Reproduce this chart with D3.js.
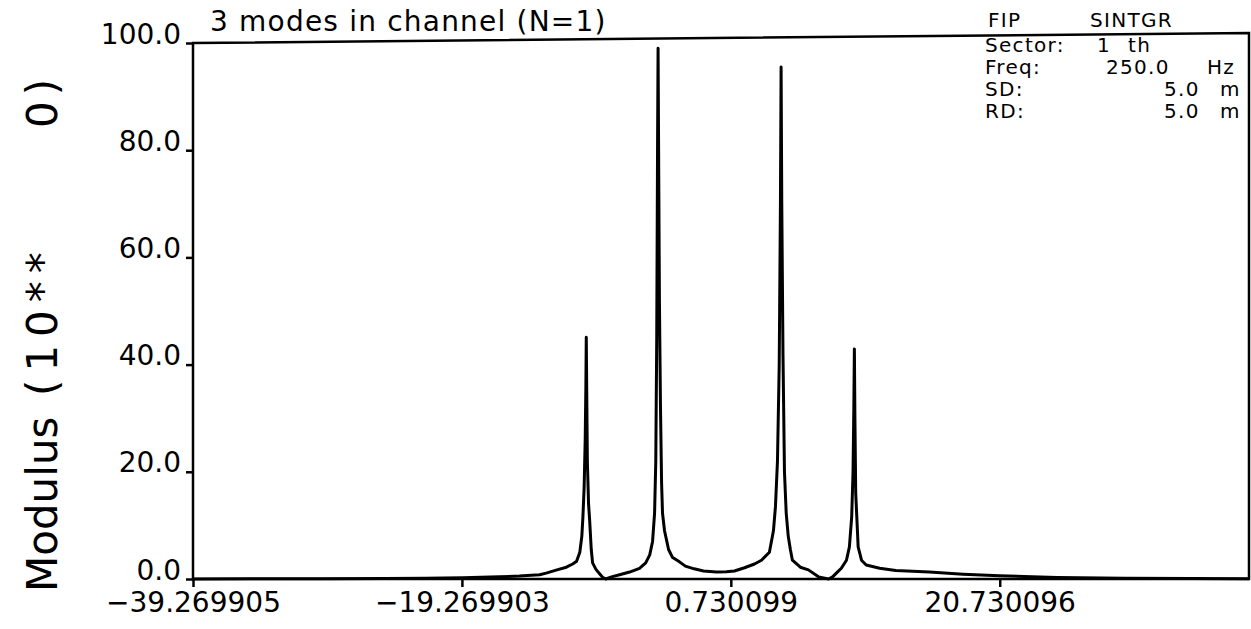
<!DOCTYPE html>
<html>
<head>
<meta charset="utf-8">
<script src="https://cdn.jsdelivr.net/npm/d3@7"></script>
<style>
  html, body { margin: 0; padding: 0; background: #fff; }
  svg { display: block; }
  text { font-family: "DejaVu Sans", sans-serif; fill: #000; }
</style>
</head>
<body>
<svg id="chart" width="1251" height="629"></svg>
<script>
// ---- data ----
const xTickValues = [-39.269905, -19.269903, 0.730099, 20.730096];
const xTickLabels = ["−39.269905", "−19.269903", "0.730099", "20.730096"];
const yTickValues = [0, 20, 40, 60, 80, 100];
const yTickLabels = ["0.0", "20.0", "40.0", "60.0", "80.0", "100.0"];
const xDomain = [-39.269905, 39.269905];
const yDomain = [0, 100];

// wavenumber samples and modulus values
const kValues = [
  -39.27, -35, -30, -25, -22, -19.2, -16.5, -15, -13.49, -13.0, -12.2, -11.5, -11.03, -10.74,
  -10.5, -10.35, -10.27, -10.18, -10.1, -10.05, -10.02, -9.99, -9.94, -9.85, -9.77,
  -9.65, -9.55, -9.3, -9.0, -8.8, -8.58, -8.14, -7.54, -6.8, -6.06, -5.6, -5.3,
  -5.09, -4.94, -4.85, -4.78, -4.72, -4.68, -4.64, -4.58, -4.5, -4.42, -4.35, -4.2,
  -3.9, -3.6, -3.09, -2.65, -2.0, -1.3, -0.34, 0.4, 1.0, 1.75, 2.49, 3.01, 3.6,
  3.9, 4.05, 4.2, 4.33, 4.42, 4.47, 4.52, 4.61, 4.72, 4.85, 5.0, 5.16, 5.31, 5.9,
  6.5, 7.25, 8.0, 8.3, 8.58, 8.95, 9.33, 9.55, 9.72, 9.82, 9.88, 9.92, 9.96, 10.02,
  10.1, 10.2, 10.45, 10.8, 11.8, 13.0, 15.5, 18, 20.7, 25, 30, 35, 39.27
];
const modulus = [
  0.02, 0.04, 0.06, 0.1, 0.16, 0.25, 0.4, 0.55, 0.8, 1.1, 1.7, 2.2, 2.8, 3.3,
  5.0, 8.0, 11.6, 17, 26, 36, 45.1, 36, 22, 14, 11.0,
  5.5, 3.0, 1.8, 0.9, 0.3, 0.0, 0.4, 0.8, 1.3, 2.0, 3.0, 4.5,
  7.0, 12.3, 22, 45, 80, 99.0, 80, 52, 32, 18, 12.3, 9.0,
  5.5, 4.0, 3.2, 2.4, 1.9, 1.5, 1.3, 1.35, 1.5, 2.1, 2.8, 3.5, 5.0,
  9.0, 13.5, 22, 40, 70, 95.5, 70, 42, 20, 12.3, 8.0, 5.5, 3.5, 2.2,
  1.7, 0.4, 0.0, 0.4, 1.1, 2.0, 3.5, 6.0, 11.6, 20, 32, 42.9, 30, 16,
  11.6, 6.0, 3.5, 2.6, 2.0, 1.6, 1.3, 0.9, 0.6, 0.3, 0.15, 0.08, 0.05
];

const titleText = "3 modes in channel (N=1)";
const yTitleParts = ["Modulus", "(10**", "0)"];

// ---- layout ----
const svg = d3.select("#chart");
const mLeft = 193, mRight = 1249, mTop = 43, mBottom = 579;

const x = d3.scaleLinear().domain(xDomain).range([mLeft, mRight]);
const y = d3.scaleLinear().domain(yDomain).range([mBottom, mTop]);

// frame (top edge slightly tilted as in the scanned plot)
svg.append("path")
  .attr("d", `M${mLeft},${mBottom} L${mLeft},${mTop} L${mRight},${mTop - 10} L${mRight},${mBottom} Z`)
  .attr("fill", "none").attr("stroke", "#000").attr("stroke-width", 2.5);

// y axis
const yAxis = d3.axisLeft(y).tickValues(yTickValues)
  .tickFormat((d, i) => yTickLabels[i]).tickSize(7).tickPadding(5);
const gy = svg.append("g").attr("transform", `translate(${mLeft},0)`).call(yAxis);
gy.select(".domain").remove();
gy.selectAll(".tick line").attr("stroke", "#000").attr("stroke-width", 2.5);
gy.selectAll(".tick text").attr("font-size", 28).attr("font-family", "DejaVu Sans")
  .attr("dy", "0em").attr("fill", "#000");

// x axis
const xAxis = d3.axisBottom(x).tickValues(xTickValues)
  .tickFormat((d, i) => xTickLabels[i]).tickSize(8).tickPadding(5);
const gx = svg.append("g").attr("transform", `translate(0,${mBottom})`).call(xAxis);
gx.select(".domain").remove();
gx.selectAll(".tick line").attr("stroke", "#000").attr("stroke-width", 2.5);
gx.selectAll(".tick text").attr("font-size", 28).attr("font-family", "DejaVu Sans")
  .attr("fill", "#000");

// curve
const pts = kValues.map((k, i) => [k, modulus[i]]);
svg.append("path")
  .datum(pts)
  .attr("d", d3.line().x(d => x(d[0])).y(d => y(d[1])))
  .attr("fill", "none").attr("stroke", "#000").attr("stroke-width", 3)
  .attr("stroke-linejoin", "round");

// title
svg.append("text").attr("x", 210).attr("y", 31).attr("font-size", 28)
  .attr("letter-spacing", 1.2).text(titleText);

// y axis title (rotated)
const yt = svg.append("text").attr("transform", "rotate(-90)").attr("font-size", 42);
yt.append("tspan").attr("x", -592).attr("y", 57).text(yTitleParts[0]);
yt.append("tspan").attr("x", -396).attr("y", 57).attr("letter-spacing", 8).text(yTitleParts[1]);
yt.append("tspan").attr("x", -128).attr("y", 57).attr("letter-spacing", 6).text(yTitleParts[2]);

// info block
const info = svg.append("g").attr("font-size", 20).attr("letter-spacing", 1.3);
const l0 = info.append("text").attr("y", 27);
l0.append("tspan").attr("x", 988).text("FIP");
l0.append("tspan").attr("x", 1090).text("SINTGR");
const l1 = info.append("text").attr("y", 52);
l1.append("tspan").attr("x", 985).text("Sector:");
l1.append("tspan").attr("x", 1097).text("1");
l1.append("tspan").attr("x", 1128).text("th");
const l2 = info.append("text").attr("y", 74);
l2.append("tspan").attr("x", 985).text("Freq:");
l2.append("tspan").attr("x", 1106).text("250.0");
l2.append("tspan").attr("x", 1207).text("Hz");
const l3 = info.append("text").attr("y", 96);
l3.append("tspan").attr("x", 985).text("SD:");
l3.append("tspan").attr("x", 1164).text("5.0");
l3.append("tspan").attr("x", 1220).text("m");
const l4 = info.append("text").attr("y", 118);
l4.append("tspan").attr("x", 985).text("RD:");
l4.append("tspan").attr("x", 1164).text("5.0");
l4.append("tspan").attr("x", 1220).text("m");
</script>
</body>
</html>
